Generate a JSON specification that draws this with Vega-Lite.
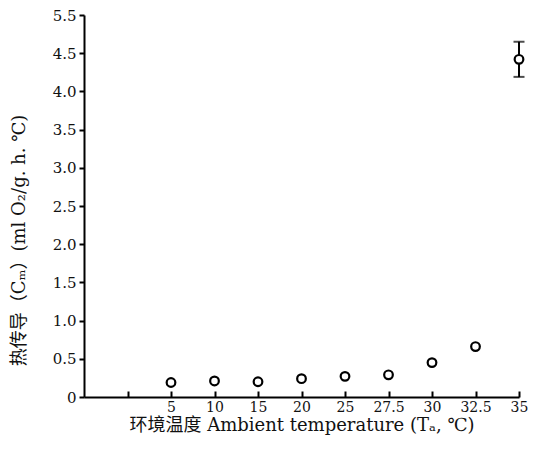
{
  "$schema": "https://vega.github.io/schema/vega-lite/v6.json",
  "width": 435,
  "height": 382,
  "autosize": "none",
  "padding": {"left": 84, "top": 15, "right": 21, "bottom": 53},
  "background": "white",
  "config": {
    "view": {"stroke": null},
    "axis": {
      "domainColor": "black", "domainWidth": 2, "tickColor": "black", "tickWidth": 2,
      "labelColor": "#111", "titleColor": "#111", "labelFont": "DejaVu Serif",
      "titleFont": "DejaVu Serif, Noto Sans CJK SC", "labelFontSize": 15, "titleFontSize": 18,
      "titleFontWeight": "normal", "grid": false, "labelOverlap": false
    }
  },
  "data": {
    "values": [
      {"temp": "5", "cond": 0.19},
      {"temp": "10", "cond": 0.21},
      {"temp": "15", "cond": 0.2},
      {"temp": "20", "cond": 0.24},
      {"temp": "25", "cond": 0.27},
      {"temp": "27.5", "cond": 0.29},
      {"temp": "30", "cond": 0.45},
      {"temp": "32.5", "cond": 0.66},
      {"temp": "35", "cond": 4.42, "lo": 4.19, "hi": 4.65}
    ]
  },
  "encoding": {
    "x": {
      "field": "temp", "type": "ordinal",
      "scale": {"type": "point", "domain": ["", " ", "5", "10", "15", "20", "25", "27.5", "30", "32.5", "35"], "padding": 0},
      "axis": {
        "labelAngle": 0, "tickSize": -6, "labelPadding": 9, "labelFontSize": 14,
        "tickOpacity": {"condition": {"test": "datum.value === ''", "value": 0}, "value": 1},
        "title": "环境温度 Ambient temperature (Tₐ, ℃)", "titlePadding": 2
      }
    }
  },
  "layer": [
    {
      "transform": [{"filter": "isValid(datum.lo)"}],
      "mark": {"type": "rule", "color": "black", "strokeWidth": 2},
      "encoding": {
        "y": {
          "field": "lo", "type": "quantitative",
          "scale": {"domain": [0, 5], "nice": false},
          "axis": {
            "tickCount": 11,
            "labelExpr": "datum.value === 0 ? '0' : datum.value === 5 ? '5.5' : format(datum.value, '.1f')",
            "tickSize": 5, "labelPadding": 3, "labelOverlap": false,
            "title": "热传导（Cₘ）(ml O₂/g. h. ℃)",
            "titleX": -56, "titleY": 225
          }
        },
        "y2": {"field": "hi"}
      }
    },
    {
      "transform": [{"filter": "isValid(datum.lo)"}],
      "mark": {"type": "tick", "color": "black", "thickness": 2, "size": 11, "orient": "horizontal"},
      "encoding": {"y": {"field": "lo", "type": "quantitative"}}
    },
    {
      "transform": [{"filter": "isValid(datum.hi)"}],
      "mark": {"type": "tick", "color": "black", "thickness": 2, "size": 11, "orient": "horizontal"},
      "encoding": {"y": {"field": "hi", "type": "quantitative"}}
    },
    {
      "mark": {"type": "point", "shape": "circle", "filled": true, "fill": "white", "stroke": "black", "strokeWidth": 2.2, "size": 75, "opacity": 1},
      "encoding": {
        "y": {"field": "cond", "type": "quantitative"}
      }
    }
  ]
}
